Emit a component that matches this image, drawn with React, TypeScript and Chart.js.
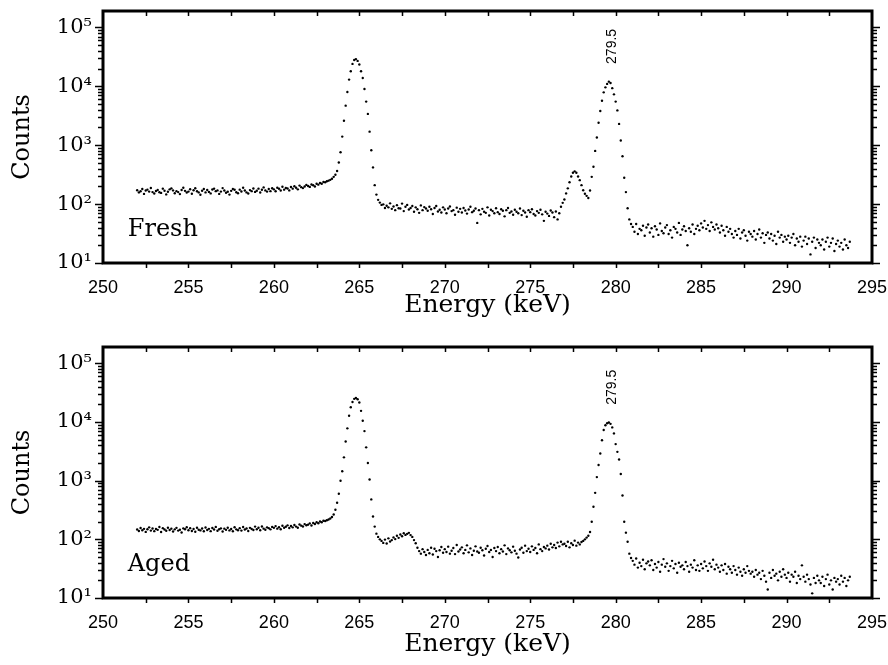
import React, { useEffect, useRef } from 'react';
import { Chart, registerables } from 'chart.js';
Chart.register(...registerables);

// Channel calibration: first channel energy and channel width (keV)
const E_START = 252.0;
const E_STEP = 0.1;

// ---------- Fresh spectrum (counts per channel) ----------
const freshA = [
  172,158,165,181,149,170,176,163,188,160,
  151,167,174,159,155,183,169,146,162,178,
  185,171,153,166,160,148,174,190,168,157,
  163,179,150,172,186,165,158,144,169,181,
  158,174,161,152,177,183,166,171,149,163,
  187,170,156,162,145,168,180,175,159,153,
  176,164,189,170,158,151,173,166,184,161,
  169,183,157,175,192,171,163,180,166,186,
  178,165,190,182,170,197,176,188,184,171,
  195,183,201,189,178,206,194,187,199,212,
  203,196,215,209,199,222,214,228,221,238,
];
const freshB = [
  235,245,250,258,270,290,315,365,510,760,
  1400,2600,4700,8000,13000,18000,24000,28000,29000,27000,
  23500,18000,13800,9000,5500,3400,1700,820,420,210,
  145,118,106,97,
];
const freshC = [
  99,86,94,88,103,83,
  91,79,96,85,84,102,76,90,97,81,
  86,93,74,88,82,71,95,79,89,84,
  77,90,82,68,86,93,75,80,72,88,
  81,70,84,91,76,79,66,87,74,83,
  72,86,78,69,81,90,73,77,84,48,
  79,67,83,74,71,88,64,80,76,70,
  85,73,68,82,77,62,79,86,71,75,
  66,80,74,70,84,65,77,72,61,79,
  73,82,68,64,76,71,80,67,52,74,
  69,63,78,72,60,75,55,70,
];
const freshD = [
  90,105,
  120,152,185,235,295,340,360,340,295,255,
  210,172,150,138,127,170,290,430,800,1350,
  2400,3800,5700,7900,9600,11000,12000,11400,9300,7300,
  5500,3900,2300,1200,650,280,160,85,55,46,
];
const freshE = [
  41,34,46,31,38,36,43,29,40,45,
  33,39,28,42,37,30,47,35,32,40,
  44,31,36,27,41,38,33,48,30,37,
  42,35,20,39,34,45,31,38,43,36,
  47,40,52,38,44,35,49,41,37,45,
  39,33,43,36,29,41,34,38,31,27,
  35,30,38,26,33,36,29,24,34,31,
  28,35,25,31,37,27,32,22,30,33,
  26,31,24,29,21,34,27,30,23,28,
  25,29,22,27,31,20,26,23,28,19,
  24,28,21,26,14,23,27,18,25,22,
  20,25,17,23,27,19,22,26,16,21,
  24,19,22,17,25,20,18,23,
];

// ---------- Aged spectrum (counts per channel) ----------
const agedA = [
  147,139,156,143,151,134,149,160,141,153,
  138,150,145,162,133,155,147,140,158,144,
  152,136,148,157,141,146,131,154,149,161,
  143,155,139,150,135,158,146,142,153,137,
  159,144,151,138,156,147,163,140,149,154,
  136,152,145,158,142,150,137,161,148,143,
  155,141,162,147,153,139,157,150,144,165,
  149,158,143,166,152,146,160,155,148,163,
  157,168,152,161,149,170,158,164,173,156,
  169,160,176,165,158,179,171,166,182,174,
  178,187,172,190,183,195,188,201,196,208,
];
const agedB = [
  205,212,218,226,240,265,320,420,600,1000,
  1450,2500,4660,7800,12800,17800,22000,24800,25600,24500,
  21500,15500,10500,7000,3700,2000,1050,480,245,165,
  125,110,100,
];
const agedC = [
  94,87,99,85,104,92,97,
  108,101,115,106,121,113,127,119,124,129,
  118,110,97,86,72,63,57,68,61,54,
  66,58,72,55,69,63,50,65,74,59,
  68,61,75,57,64,71,56,80,62,67,
  73,58,66,79,60,70,54,64,76,62,
  59,72,65,53,69,77,61,66,50,71,
  63,74,58,68,62,79,56,70,65,60,
  75,64,57,49,67,72,59,78,63,69,
  61,76,66,71,58,82,68,63,74,70,
  78,67,84,73,80,71,88,76,91,82,
];
const agedD = [
  84,77,91,73,86,80,95,78,88,82,
  90,94,100,107,115,133,200,360,620,1150,
  1850,2900,4900,7300,8800,9500,9800,9300,8100,6400,
  4200,3100,2300,1300,560,200,130,91,57,48,
];
const agedE = [
  43,37,47,33,40,35,45,31,39,42,
  36,44,30,38,33,41,28,37,46,34,
  39,29,35,43,32,38,27,40,34,36,
  31,41,35,28,37,33,44,30,36,29,
  38,32,42,35,29,39,34,45,31,37,
  33,28,36,30,38,26,34,31,27,35,
  30,25,33,28,24,31,27,35,29,26,
  28,23,30,25,27,21,29,24,19,14,
  27,22,30,24,26,20,28,23,31,25,
  22,27,19,25,23,28,18,24,21,36,
  23,19,25,21,17,12,22,18,24,20,
  18,23,16,21,25,17,20,14,22,19,
  21,17,24,19,22,16,20,23,
];

const freshCounts = [...freshA, ...freshB, ...freshC, ...freshD, ...freshE];
const agedCounts = [...agedA, ...agedB, ...agedC, ...agedD, ...agedE];

// Axis ticks
const xTicks = [250, 255, 260, 265, 270, 275, 280, 285, 290, 295];
const xMinorStep = 2.5;
const yTicks = [10, 100, 1000, 10000, 100000];
const yTickLabels = ['10¹', '10²', '10³', '10⁴', '10⁵'];
const X_MIN = 250, X_MAX = 295, Y_MIN = 10, Y_MAX = 190000;

const peakLabel = '279.5';
const peakEnergy = 279.5;

function toPoints(counts: number[]) {
  return counts.map((c, i) => ({ x: +(E_START + i * E_STEP).toFixed(2), y: c }));
}

const framePlugin = {
  id: 'frameDecor',
  afterDraw(chart: any, _args: any, opts: any) {
    const { ctx, chartArea } = chart;
    const { left, right, top, bottom } = chartArea;
    const xs = chart.scales.x;
    const ys = chart.scales.y;
    ctx.save();
    ctx.strokeStyle = '#000';
    // x ticks every 2.5 keV (pointing down at top and bottom)
    ctx.lineWidth = 1.5;
    ctx.beginPath();
    for (let v = X_MIN + xMinorStep; v < X_MAX - 0.01; v += xMinorStep) {
      const px = Math.round(xs.getPixelForValue(v)) + 0.5;
      ctx.moveTo(px, top);
      ctx.lineTo(px, top + 5);
      ctx.moveTo(px, bottom);
      ctx.lineTo(px, bottom + 5);
    }
    ctx.stroke();
    // y log ticks on both sides (outside)
    ctx.lineWidth = 1.3;
    ctx.beginPath();
    for (let d = 1; d <= 5; d++) {
      for (let m = 1; m <= 9; m++) {
        const v = m * Math.pow(10, d);
        if (v > Y_MAX) break;
        const py = Math.round(ys.getPixelForValue(v)) + 0.5;
        const len = m === 1 ? 8 : 5;
        ctx.moveTo(left, py);
        ctx.lineTo(left - len, py);
        ctx.moveTo(right, py);
        ctx.lineTo(right + len, py);
      }
    }
    ctx.stroke();
    // frame
    ctx.lineWidth = 3;
    ctx.strokeRect(left, top, right - left, bottom - top);

    // panel name
    ctx.fillStyle = '#000';
    ctx.font = '24px "DejaVu Serif"';
    ctx.textAlign = 'left';
    ctx.textBaseline = 'middle';
    ctx.fillText(opts.name, xs.getPixelForValue(251.45), bottom - 33);

    // peak annotation (rotated)
    ctx.save();
    ctx.translate(xs.getPixelForValue(peakEnergy) + 5, ys.getPixelForValue(opts.labelAt));
    ctx.rotate(-Math.PI / 2);
    ctx.font = '14px "Liberation Sans"';
    ctx.textAlign = 'left';
    ctx.textBaseline = 'middle';
    ctx.fillText(peakLabel, 0, 0);
    ctx.restore();
    ctx.restore();
  },
};

type PanelProps = {
  counts: number[];
  name: string;
  labelAt: number;
  height: number;
  padTop: number;
  xAxisH: number;
  titlePadBottom: number;
};

function Panel({ counts, name, labelAt, height, padTop, xAxisH, titlePadBottom }: PanelProps) {
  const ref = useRef<HTMLCanvasElement>(null);
  useEffect(() => {
    if (!ref.current) return;
    const chart = new Chart(ref.current, {
      type: 'scatter',
      data: {
        datasets: [
          {
            data: toPoints(counts),
            showLine: false,
            pointRadius: 1.2,
            pointBorderWidth: 0,
            pointBackgroundColor: '#000',
            pointHoverRadius: 1.2,
          },
        ],
      },
      options: {
        animation: false,
        responsive: false,
        devicePixelRatio: 1,
        layout: { padding: { top: padTop, right: 16, left: 0, bottom: 0 } },
        plugins: {
          legend: { display: false },
          tooltip: { enabled: false },
          frameDecor: { name, labelAt },
        } as any,
        scales: {
          x: {
            type: 'linear',
            min: X_MIN,
            max: X_MAX,
            afterBuildTicks: (scale: any) => {
              scale.ticks = xTicks.map((v) => ({ value: v }));
            },
            afterFit: (scale: any) => {
              scale.height = xAxisH;
              scale.paddingLeft = 0;
              scale.paddingRight = 0;
            },
            grid: { display: false, drawTicks: false },
            border: { display: false },
            ticks: {
              autoSkip: false,
              maxRotation: 0,
              padding: 14,
              color: '#000',
              font: { family: '"Liberation Sans"', size: 18 },
              callback: (v: any) => String(v),
            },
            title: {
              display: true,
              text: 'Energy (keV)',
              color: '#000',
              font: { family: '"DejaVu Serif"', size: 25 },
              padding: { top: 0, bottom: titlePadBottom },
            },
          },
          y: {
            type: 'logarithmic',
            min: Y_MIN,
            max: Y_MAX,
            afterBuildTicks: (scale: any) => {
              scale.ticks = yTicks.map((v) => ({ value: v }));
            },
            afterFit: (scale: any) => {
              scale.width = 103;
              scale.paddingTop = 0;
              scale.paddingBottom = 0;
            },
            grid: { display: false, drawTicks: false },
            border: { display: false },
            ticks: {
              autoSkip: false,
              padding: 11,
              color: '#000',
              font: { family: '"DejaVu Serif"', size: 21 },
              callback: (v: any) => {
                const i = yTicks.indexOf(Number(v));
                return i >= 0 ? yTickLabels[i] : '';
              },
            },
            title: {
              display: true,
              text: 'Counts',
              color: '#000',
              font: { family: '"DejaVu Serif"', size: 24 },
              padding: { top: 8, bottom: 0 },
            },
          },
        },
      },
      plugins: [framePlugin],
    } as any);
    return () => chart.destroy();
  }, [counts, name, labelAt, height, padTop, xAxisH, titlePadBottom]);
  return <canvas ref={ref} width={888} height={height} style={{ display: 'block', width: 888, height }} />;
}

export default function App() {
  return (
    <div style={{ position: 'absolute', left: 0, top: 0, width: 888, height: 665, background: '#fff' }}>
      <Panel counts={freshCounts} name="Fresh" labelAt={24000} height={332} padTop={11} xAxisH={69} titlePadBottom={12} />
      <Panel counts={agedCounts} name="Aged" labelAt={19600} height={333} padTop={15} xAxisH={67} titlePadBottom={6} />
    </div>
  );
}
